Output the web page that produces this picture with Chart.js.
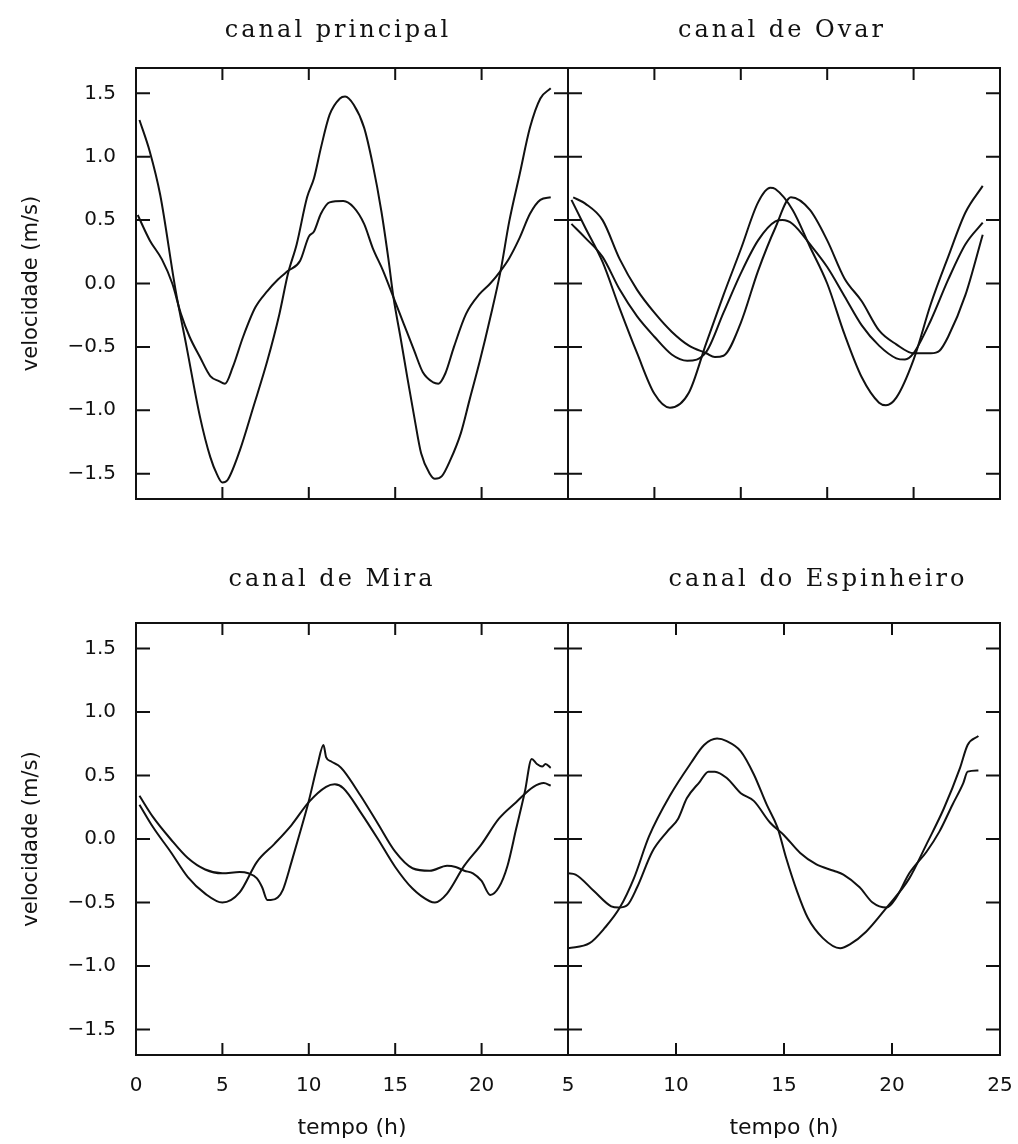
<!DOCTYPE html>
<html lang="pt">
<head>
  <meta charset="UTF-8" />
  <title>velocidade nos canais</title>
  <script src="https://cdn.jsdelivr.net/npm/chart.js"></script>
  <style>
    html, body { margin: 0; padding: 0; background: #fff; }
    #wrap { position: relative; width: 1018px; height: 1144px; overflow: hidden; }
    canvas { position: absolute; }
  </style>
</head>
<body>
  <div id="wrap">
    <canvas id="cPrincipal" width="580" height="530" style="left:0;top:0"></canvas>
    <canvas id="cOvar" width="458" height="530" style="left:560px;top:0"></canvas>
    <canvas id="cMira" width="580" height="604" style="left:0;top:540px"></canvas>
    <canvas id="cEspinheiro" width="458" height="604" style="left:560px;top:540px"></canvas>
  </div>

  <script>
    // tick labels
    const velTicks = [-1.5, -1.0, -0.5, 0.0, 0.5, 1.0, 1.5];
    const hourTicksTop = [0, 5, 10, 15, 20, 25];
    const hourTicksMira = [0, 5, 10, 15, 20];
    const hourTicksEsp = [5, 10, 15, 20, 25];
    const panelTitles = ["canal principal", "canal de Ovar", "canal de Mira", "canal do Espinheiro"];

    // canal principal
    const principalT1 = [0.2, 0.8, 1.4, 2.3, 2.9, 3.7, 4.3, 4.7, 5.0, 5.3, 6.0, 6.8, 7.6, 8.3, 8.8, 9.3, 9.9, 10.3, 10.7, 11.2, 11.8, 12.1, 12.6, 13.2, 13.7, 14.2, 14.6, 14.9, 15.3, 15.7, 16.1, 16.5, 17.0, 17.3, 17.7, 18.2, 18.8, 19.3, 19.9, 20.5, 21.1, 21.6, 22.2, 22.8, 23.4, 24.0];
    const principalV1 = [1.29, 1.04, 0.70, -0.06, -0.48, -1.05, -1.37, -1.51, -1.57, -1.55, -1.32, -0.97, -0.61, -0.24, 0.08, 0.31, 0.68, 0.83, 1.07, 1.33, 1.46, 1.475, 1.41, 1.23, 0.94, 0.57, 0.20, -0.11, -0.42, -0.74, -1.05, -1.34, -1.50, -1.54, -1.52, -1.39, -1.18, -0.92, -0.61, -0.27, 0.10, 0.49, 0.86, 1.23, 1.46, 1.54];
    const principalT2 = [0.1, 0.8, 1.5, 2.1, 2.6, 3.1, 3.7, 4.3, 4.8, 5.15, 5.6, 6.2, 6.9, 7.6, 8.2, 8.8, 9.5, 10.0, 10.3, 10.7, 11.2, 12.0, 12.6, 13.2, 13.7, 14.3, 14.9, 15.5, 16.1, 16.6, 17.2, 17.5, 17.9, 18.4, 19.1, 19.9, 20.5, 21.1, 21.6, 22.2, 22.8, 23.4, 24.0];
    const principalV2 = [0.54, 0.34, 0.19, 0.0, -0.24, -0.42, -0.58, -0.73, -0.77, -0.79, -0.66, -0.42, -0.19, -0.06, 0.03, 0.10, 0.18, 0.37, 0.41, 0.55, 0.64, 0.65, 0.60, 0.47, 0.28, 0.10, -0.11, -0.32, -0.53, -0.70, -0.78, -0.79, -0.71, -0.50, -0.24, -0.08, 0.0, 0.10, 0.20, 0.36, 0.55, 0.66, 0.68];

    // canal de Ovar
    const ovarT1 = [0.2, 1, 2, 3, 4, 5, 5.9, 7, 8, 9, 10, 11, 11.7, 12, 13, 14, 15, 16, 17, 18, 18.4, 19, 20, 21, 22, 23, 24];
    const ovarV1 = [0.66, 0.44, 0.17, -0.20, -0.55, -0.87, -0.98, -0.86, -0.47, -0.09, 0.27, 0.64, 0.755, 0.745, 0.58, 0.29, 0.0, -0.40, -0.74, -0.94, -0.96, -0.90, -0.60, -0.16, 0.21, 0.56, 0.77];
    const ovarT2 = [0.3, 1, 2, 3, 4, 5, 6, 7, 8, 8.5, 9, 10, 11, 12, 12.9, 14, 15, 16, 17, 18, 19, 20, 21, 21.5, 22, 23, 24];
    const ovarV2 = [0.68, 0.63, 0.50, 0.19, -0.05, -0.23, -0.38, -0.49, -0.55, -0.58, -0.57, -0.31, 0.10, 0.44, 0.68, 0.58, 0.34, 0.04, -0.14, -0.37, -0.48, -0.55, -0.55, -0.53, -0.42, -0.09, 0.385];
    const ovarT3 = [0.2, 1, 2, 3, 4, 5, 6, 6.9, 8, 9, 10, 11, 12, 12.4, 13, 14, 15, 16, 17, 18, 19, 19.5, 20, 21, 22, 23, 24];
    const ovarV3 = [0.47, 0.36, 0.21, -0.05, -0.26, -0.42, -0.56, -0.61, -0.54, -0.23, 0.08, 0.34, 0.49, 0.50, 0.47, 0.31, 0.13, -0.10, -0.33, -0.49, -0.59, -0.60, -0.55, -0.29, 0.03, 0.31, 0.48];

    // canal de Mira
    const miraT1 = [0.2, 1, 2, 3, 4, 5, 6, 6.5, 7, 7.3, 7.6, 7.8, 8.2, 8.5, 9, 9.5, 10, 10.5, 10.85, 11, 11.3, 11.7, 12, 13, 14, 15, 16, 17, 18, 18.5, 19, 19.5, 20, 20.5, 21, 21.5, 22, 22.5, 22.9, 23.2, 23.5, 23.7, 24];
    const miraV1 = [0.34, 0.17, 0.0, -0.15, -0.24, -0.27, -0.26, -0.27, -0.31, -0.38, -0.48, -0.48, -0.46, -0.40, -0.18, 0.055, 0.30, 0.58, 0.74, 0.645, 0.61, 0.58, 0.54, 0.34, 0.12, -0.10, -0.23, -0.25, -0.21, -0.22, -0.25, -0.27, -0.33, -0.44, -0.38, -0.21, 0.08, 0.37, 0.63, 0.59, 0.57, 0.59, 0.56];
    const miraT2 = [0.2, 1, 2, 3, 4, 5, 6, 7, 8, 9, 10, 11, 11.5, 12, 13, 14, 15, 16, 17, 17.3, 18, 19, 20, 21, 22, 23, 23.6, 24];
    const miraV2 = [0.27, 0.09, -0.10, -0.30, -0.43, -0.50, -0.42, -0.18, -0.04, 0.11, 0.29, 0.41, 0.43, 0.40, 0.21, 0.0, -0.22, -0.39, -0.49, -0.50, -0.43, -0.21, -0.04, 0.16, 0.29, 0.41, 0.44, 0.42];

    // canal do Espinheiro
    const espT1 = [5.0, 6.0, 6.7, 7.4, 8.05, 8.75, 9.75, 10.7, 11.3, 11.9, 12.35, 13.0, 13.6, 14.2, 14.7, 15.1, 15.6, 16.1, 16.8, 17.6, 18.05, 18.8, 19.75, 20.8, 21.6, 22.4, 23.15, 23.5, 24.0];
    const espV1 = [-0.86, -0.82, -0.70, -0.54, -0.31, 0.02, 0.35, 0.60, 0.74, 0.79, 0.77, 0.69, 0.51, 0.27, 0.09, -0.15, -0.41, -0.62, -0.78, -0.86, -0.83, -0.73, -0.54, -0.31, -0.04, 0.24, 0.56, 0.74, 0.81];
    const espT2 = [5.0, 5.35, 6.2, 7.0, 7.35, 7.75, 8.2, 8.9, 9.6, 10.1, 10.5, 11.1, 11.5, 11.8, 12.35, 13.0, 13.6, 14.35, 15.0, 15.75, 16.5, 17.3, 17.75, 18.5, 19.1, 19.75, 20.2, 20.8, 21.6, 22.2, 22.8, 23.3, 23.5, 24.0];
    const espV2 = [-0.27, -0.28, -0.41, -0.53, -0.54, -0.52, -0.38, -0.10, 0.06, 0.16, 0.32, 0.45, 0.53, 0.53, 0.48, 0.36, 0.30, 0.13, 0.03, -0.11, -0.20, -0.25, -0.28, -0.38, -0.50, -0.54, -0.46, -0.27, -0.10, 0.06, 0.27, 0.44, 0.53, 0.54];

    const ink = "#111";

    function fmtVel(v) {
      if (Math.abs(v) < 1e-9) return "0.0";
      return (v < 0 ? "\u2212" : "") + Math.abs(v).toFixed(1);
    }

    function series(ts, vs) {
      return {
        data: ts.map((t, i) => ({ x: t, y: vs[i] })),
        borderColor: ink,
        borderWidth: 2,
        pointRadius: 0,
        fill: false,
        cubicInterpolationMode: "monotone",
      };
    }

    // frame, inward ticks and panel title
    const panelDecor = {
      id: "panelDecor",
      afterDatasetsDraw(chart, args, opts) {
        const { ctx, chartArea: a, scales: { x, y } } = chart;
        ctx.save();
        ctx.strokeStyle = ink;
        ctx.lineWidth = 2;
        ctx.beginPath();
        x.ticks.forEach(t => {
          const px = x.getPixelForValue(t.value);
          if (px < a.left + 2 || px > a.right - 2) return;
          ctx.moveTo(px, a.bottom); ctx.lineTo(px, a.bottom - 12);
          ctx.moveTo(px, a.top); ctx.lineTo(px, a.top + 12);
        });
        y.ticks.forEach(t => {
          const py = y.getPixelForValue(t.value);
          if (py < a.top + 2 || py > a.bottom - 2) return;
          ctx.moveTo(a.left, py); ctx.lineTo(a.left + 14, py);
          ctx.moveTo(a.right, py); ctx.lineTo(a.right - 14, py);
        });
        ctx.stroke();
        ctx.strokeRect(a.left, a.top, a.right - a.left, a.bottom - a.top);

        ctx.fillStyle = ink;
        ctx.font = '24px "DejaVu Serif"';
        ctx.letterSpacing = "3px";
        ctx.textAlign = "center";
        ctx.textBaseline = "alphabetic";
        ctx.fillText(opts.text, (a.left + a.right) / 2 + opts.dx, a.top - opts.gap);
        ctx.restore();
      },
    };

    function makePanel(id, p) {
      const xScale = {
        type: "linear",
        min: p.xMin,
        max: p.xMax,
        afterBuildTicks: s => { s.ticks = p.xTicks.map(v => ({ value: v })); },
        afterFit: s => {
          s.height = p.xLabels ? 89 : 0;
          s.paddingLeft = 0;
          s.paddingRight = 0;
        },
        grid: { display: false },
        border: { display: false },
        ticks: {
          display: p.xLabels,
          autoSkip: false,
          maxRotation: 0,
          padding: 11,
          color: ink,
          font: { family: "DejaVu Sans", size: 20 },
        },
        title: {
          display: p.xLabels,
          text: "tempo (h)",
          color: ink,
          font: { family: "DejaVu Sans", size: 22 },
          padding: { top: 0, bottom: 3 },
        },
      };
      const yScale = {
        type: "linear",
        min: -1.7,
        max: 1.7,
        afterBuildTicks: s => { s.ticks = velTicks.map(v => ({ value: v })); },
        afterFit: s => {
          s.width = p.yLabels ? 136 : 0;
          s.paddingTop = 0;
          s.paddingBottom = 0;
        },
        grid: { display: false },
        border: { display: false },
        ticks: {
          display: p.yLabels,
          padding: 12,
          color: ink,
          font: { family: "DejaVu Sans", size: 20 },
          callback: v => fmtVel(v),
        },
        title: {
          display: p.yLabels,
          text: "velocidade (m/s)",
          color: ink,
          font: { family: "DejaVu Sans", size: 21 },
          padding: { top: 19, bottom: 0 },
        },
      };
      return new Chart(document.getElementById(id), {
        type: "line",
        data: { datasets: p.datasets },
        options: {
          responsive: false,
          animation: false,
          devicePixelRatio: 1,
          layout: { padding: p.pad },
          scales: { x: xScale, y: yScale },
          plugins: {
            legend: { display: false },
            tooltip: { enabled: false },
            panelDecor: p.title,
          },
        },
        plugins: [panelDecor],
      });
    }

    makePanel("cPrincipal", {
      datasets: [series(principalT1, principalV1), series(principalT2, principalV2)],
      xMin: 0, xMax: 25, xTicks: hourTicksTop, xLabels: false, yLabels: true,
      pad: { left: 0, right: 12, top: 68, bottom: 31 },
      title: { text: panelTitles[0], dx: -14, gap: 31 },
    });

    makePanel("cOvar", {
      datasets: [series(ovarT1, ovarV1), series(ovarT2, ovarV2), series(ovarT3, ovarV3)],
      xMin: 0, xMax: 25, xTicks: hourTicksTop, xLabels: false, yLabels: false,
      pad: { left: 8, right: 18, top: 68, bottom: 31 },
      title: { text: panelTitles[1], dx: -2, gap: 31 },
    });

    makePanel("cMira", {
      datasets: [series(miraT1, miraV1), series(miraT2, miraV2)],
      xMin: 0, xMax: 25, xTicks: hourTicksMira, xLabels: true, yLabels: true,
      pad: { left: 0, right: 12, top: 83, bottom: 0 },
      title: { text: panelTitles[2], dx: -20, gap: 37 },
    });

    makePanel("cEspinheiro", {
      datasets: [series(espT1, espV1), series(espT2, espV2)],
      xMin: 5, xMax: 25, xTicks: hourTicksEsp, xLabels: true, yLabels: false,
      pad: { left: 8, right: 18, top: 83, bottom: 0 },
      title: { text: panelTitles[3], dx: 34, gap: 37 },
    });
  </script>
</body>
</html>
